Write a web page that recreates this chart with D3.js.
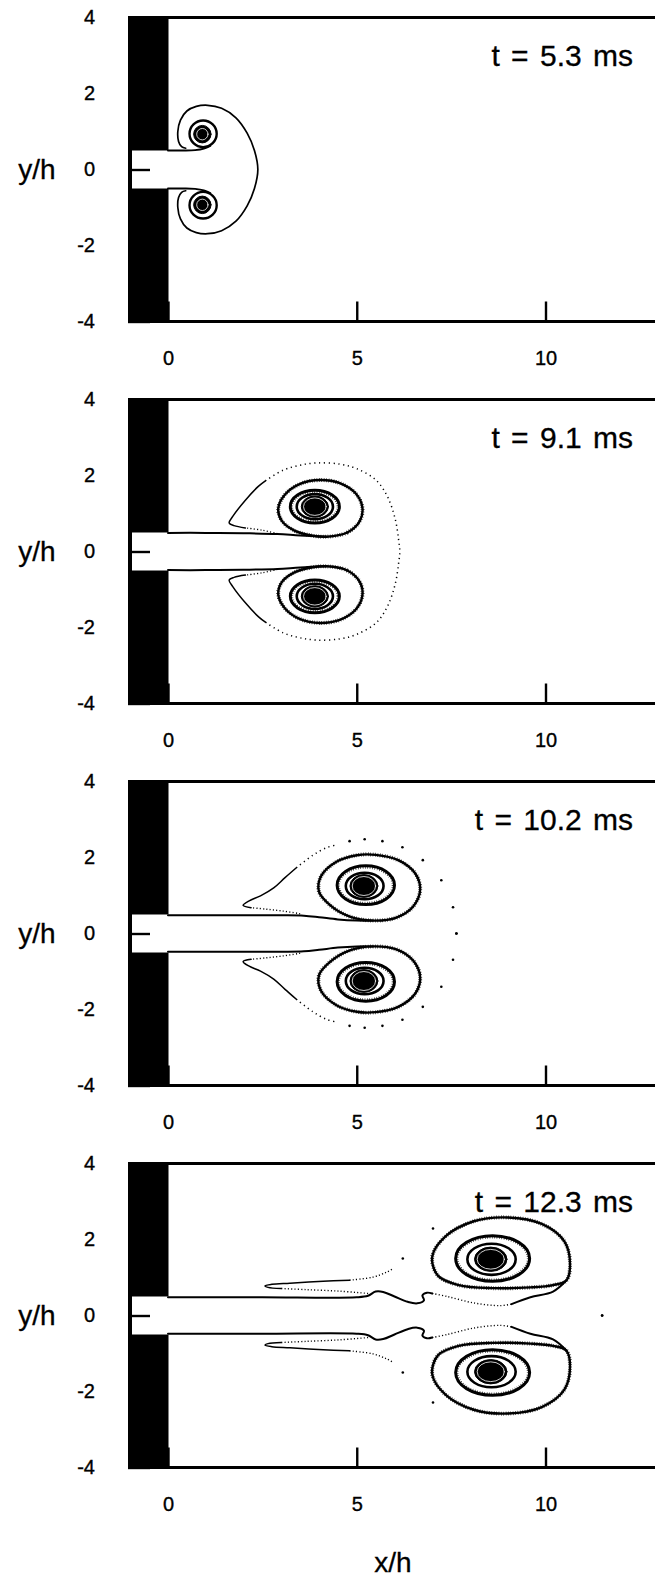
<!DOCTYPE html>
<html>
<head>
<meta charset="utf-8">
<script src="https://cdn.jsdelivr.net/npm/d3@7"></script>
<style>
  html, body { margin: 0; padding: 0; background: #fff; }
  svg { display: block; font-family: "Liberation Sans", Arial, Helvetica, sans-serif; }
</style>
</head>
<body>
<svg id="fig" width="655" height="1580"></svg>
<script>
// ---- data ---------------------------------------------------------------
// Snapshot times of the four panels
const panelLabels = ["t = 5.3 ms", "t = 9.1 ms", "t = 10.2 ms", "t = 12.3 ms"];
const xTickValues = [0, 5, 10];
const yTickValues = [-4, -2, 0, 2, 4];

// Contours are listed for the upper half (y/h > 0) in units of x/h, y/h;
// the flow is symmetric, so the lower half is drawn as the mirror image.
// Ellipses: [cx, cy, rx, ry].

// t = 5.3 ms
const p1Edge  = [[0,0.5],[0.4,0.5],[0.72,0.51],[0.95,0.55],[1.12,0.62]];
const p1Outer = [[0.47,0.56],[0.36,0.60],[0.28,0.74],[0.26,1.0],[0.33,1.30],[0.50,1.54],[0.75,1.66],
                 [1.05,1.69],[1.42,1.61],[1.80,1.36],[2.10,0.95],[2.29,0.50],[2.38,0]];
const p1Ring  = [[0.93,0.94,0.36,0.35]];
const p1Core  = [[0.91,0.93,0.23,0.23]];
const p1Gap   = [[0.91,0.93,0.15,0.15]];

// t = 9.1 ms
const p2Edge     = [[0,0.49],[1.0,0.49],[2.0,0.48],[2.9,0.46],[3.5,0.42],[4.2,0.39]];
const p2Loop     = [[4.2,0.39],[4.75,0.5],[5.08,0.8],[5.15,1.15],[4.98,1.52],[4.55,1.8],[4.02,1.88],
                    [3.5,1.78],[3.1,1.5],[2.92,1.13],[3.02,0.8],[3.35,0.55],[3.8,0.42]];
const p2Tear     = [[2.05,0.62],[1.75,0.68],[1.62,0.75],[1.72,0.93],[2.05,1.35],[2.40,1.72],[2.58,1.86]];
const p2TearDots = [[2.9,0.47],[2.5,0.56],[2.05,0.62]];
const p2Halo     = [[2.58,1.86],[3.05,2.14],[3.49,2.27],[3.93,2.33],[4.55,2.30],[5.0,2.18],[5.52,1.87],
                    [5.82,1.43],[6.02,0.85],[6.11,0.3],[6.14,0]];
const p2Ring     = [[3.89,1.18,0.65,0.43]];
const p2Inner    = [[3.89,1.18,0.48,0.33]];
const p2Core     = [[3.89,1.18,0.36,0.28]];
const p2Gap      = [[3.89,1.18,0.30,0.23]];

// t = 10.2 ms
const p3Edge      = [[0,0.48],[1.5,0.48],[3.0,0.48],[3.6,0.47],[4.0,0.43],[4.5,0.37],[5.0,0.34],[5.43,0.34]];
const p3Loop      = [[5.43,0.34],[6.05,0.42],[6.5,0.72],[6.68,1.15],[6.55,1.58],[6.1,1.93],[5.5,2.07],
                     [5.0,2.06],[4.45,1.88],[4.05,1.5],[4.0,1.1],[4.3,0.74],[4.8,0.45]];
const p3Tear      = [[2.2,0.68],[1.99,0.74],[2.15,0.86],[2.45,0.99],[2.8,1.2],[3.1,1.47],[3.4,1.73]];
const p3TearDots  = [[3.5,0.52],[3.05,0.59],[2.6,0.64],[2.2,0.68]];
const p3HaloDense = [[3.4,1.73],[3.84,2.06],[4.2,2.26],[4.46,2.33]];
const p3HaloDots  = [[4.81,2.43],[5.21,2.48],[5.68,2.43],[6.21,2.27],[6.75,1.93],[7.24,1.40],[7.55,0.69],[7.64,0]];
const p3Ring      = [[5.24,1.27,0.76,0.51]];
const p3Inner     = [[5.21,1.25,0.50,0.35]];
const p3Core      = [[5.19,1.25,0.37,0.30]];
const p3Gap       = [[5.19,1.25,0.31,0.25]];

// t = 12.3 ms
const p4Edge     = [[0,0.48],[2.5,0.48],[5.0,0.48],[5.3,0.52],[5.5,0.63],[5.7,0.62],[6.0,0.5],[6.35,0.36],
                    [6.6,0.32],[6.78,0.4],[6.74,0.53],[6.86,0.6],[7.0,0.58]];
const p4EdgeDots = [[7.0,0.58],[7.4,0.5],[8.1,0.33],[8.8,0.26],[9.1,0.3]];
const p4EdgeEnd  = [[9.1,0.3],[9.6,0.48],[10.2,0.63],[10.55,0.92]];
const p4Loop     = [[10.55,0.92],[10.65,1.35],[10.5,1.95],[9.9,2.41],[9.0,2.58],[8.1,2.48],[7.35,2.08],
                    [7.0,1.55],[7.15,1.05],[7.7,0.8],[8.6,0.72],[9.6,0.74],[10.2,0.8]];
const p4Tail     = [[3.0,0.71],[2.65,0.74],[2.57,0.78],[2.75,0.82],[3.23,0.85],[4.11,0.9],[4.81,0.93]];
const p4TailDots = [[5.3,0.58],[4.55,0.64],[3.67,0.68],[3.0,0.71]];
const p4TailEnd  = [[4.81,0.93],[5.43,1.01],[5.79,1.14],[5.96,1.23]];
const p4Dots     = [[6.22,1.50],[7.02,2.29],[11.5,0]];
const p4Ring     = [[8.6,1.5,0.98,0.6]];
const p4Inner    = [[8.57,1.48,0.64,0.41]];
const p4Core     = [[8.55,1.48,0.43,0.32]];
const p4Gap      = [[8.55,1.48,0.36,0.26]];

// ---- layers per panel ---------------------------------------------------
const panels = [
  { label: panelLabels[0], layers: [
    { kind: "edge",  shape: "open",    pts: p1Edge },
    { kind: "outer", shape: "through", pts: p1Outer },
    { kind: "ring1", shape: "ellipse", pts: p1Ring },
    { kind: "core",  shape: "disc",    pts: p1Core },
    { kind: "gap",   shape: "ellipse", pts: p1Gap } ]},
  { label: panelLabels[1], layers: [
    { kind: "edge",  shape: "open",    pts: p2Edge },
    { kind: "loop",  shape: "closed",  pts: p2Loop },
    { kind: "thin",  shape: "open",    pts: p2Tear },
    { kind: "dense", shape: "open",    pts: p2TearDots },
    { kind: "dotted",shape: "through", pts: p2Halo },
    { kind: "ring",  shape: "ellipse", pts: p2Ring },
    { kind: "inner", shape: "ellipse", pts: p2Inner },
    { kind: "core",  shape: "disc",    pts: p2Core },
    { kind: "gap",   shape: "ellipse", pts: p2Gap } ]},
  { label: panelLabels[2], layers: [
    { kind: "edge",  shape: "open",    pts: p3Edge },
    { kind: "loop",  shape: "closed",  pts: p3Loop },
    { kind: "thin",  shape: "open",    pts: p3Tear },
    { kind: "dense", shape: "open",    pts: p3TearDots },
    { kind: "dotted",shape: "open",    pts: p3HaloDense },
    { kind: "dot",   shape: "dots",    pts: p3HaloDots },
    { kind: "ring",  shape: "ellipse", pts: p3Ring },
    { kind: "inner", shape: "ellipse", pts: p3Inner },
    { kind: "core",  shape: "disc",    pts: p3Core },
    { kind: "gap",   shape: "ellipse", pts: p3Gap } ]},
  { label: panelLabels[3], layers: [
    { kind: "edge",  shape: "open",    pts: p4Edge },
    { kind: "dense", shape: "open",    pts: p4EdgeDots },
    { kind: "edge",  shape: "open",    pts: p4EdgeEnd },
    { kind: "loop",  shape: "closed",  pts: p4Loop },
    { kind: "thin",  shape: "open",    pts: p4Tail },
    { kind: "dense", shape: "open",    pts: p4TailDots },
    { kind: "dense", shape: "open",    pts: p4TailEnd },
    { kind: "dot",   shape: "dots",    pts: p4Dots },
    { kind: "ring",  shape: "ellipse", pts: p4Ring },
    { kind: "inner", shape: "ellipse", pts: p4Inner },
    { kind: "core",  shape: "disc",    pts: p4Core },
    { kind: "gap",   shape: "ellipse", pts: p4Gap } ]}
];

// ---- styles -------------------------------------------------------------
const styles = {
  edge:   { w: 2.0 },
  outer:  { w: 1.7 },
  thin:   { w: 1.5 },
  loop:   { w: 2.4, hatch: true },
  dense:  { w: 1.4, dash: "1.1 2.2" },
  dotted: { w: 1.5, dash: "1.2 3.6" },
  ring1:  { w: 2.4 },
  ring:   { w: 3.0, hatch: true },
  inner:  { w: 2.6 },
  core:   { w: 1.0 },
  gap:    { w: 0.8, color: "#fff" },
  dot:    { r: 1.3 }
};

// ---- layout -------------------------------------------------------------
const wallLeft = 128;        // outer edge of the black end wall
const panelTop0 = 17.5;      // y/h = 4 of the first panel
const panelStep = 382;
const panelH = 304;
const frameRight = 662;

const x = d3.scaleLinear().domain([0, 10]).range([168, 545.5]);

const svg = d3.select("#fig");
const FONT = '"Liberation Sans", Arial, Helvetica, sans-serif';

const mirror = pts => pts.map(([a, b]) => [a, -b]);

panels.forEach((p, i) => {
  const top = panelTop0 + i * panelStep;
  const y = d3.scaleLinear().domain([-4, 4]).range([top + panelH, top]);
  const g = svg.append("g").attr("class", "panel");

  const lineOpen = d3.line().x(d => x(d[0])).y(d => y(d[1])).curve(d3.curveCatmullRom.alpha(0.5));
  const lineClosed = d3.line().x(d => x(d[0])).y(d => y(d[1])).curve(d3.curveCatmullRomClosed.alpha(0.5));

  // end wall and the slot through which the jet enters
  g.append("rect")
    .attr("x", wallLeft).attr("y", top - 1.5)
    .attr("width", x(0) - wallLeft + 0.5).attr("height", panelH + 3)
    .attr("fill", "#000");
  g.append("rect")
    .attr("x", wallLeft + 4).attr("y", y(0.5))
    .attr("width", x(0) - wallLeft - 3).attr("height", y(-0.5) - y(0.5))
    .attr("fill", "#fff");

  // contours
  const cg = g.append("g").attr("fill", "none").attr("stroke", "#000")
    .attr("stroke-linecap", "round").attr("stroke-linejoin", "round");

  p.layers.forEach(layer => {
    const st = styles[layer.kind] || {};
    const col = st.color || "#000";
    if (layer.shape === "dots") {
      const pts = layer.pts.concat(mirror(layer.pts));
      cg.selectAll(null).data(pts).enter().append("circle")
        .attr("cx", d => x(d[0])).attr("cy", d => y(d[1]))
        .attr("r", st.r).attr("fill", col).attr("stroke", "none");
      return;
    }
    if (layer.shape === "ellipse" || layer.shape === "disc") {
      const els = layer.pts.concat(layer.pts.map(([a, b, c, d]) => [a, -b, c, d]));
      const e = cg.selectAll(null).data(els).enter().append("ellipse")
        .attr("cx", d => x(d[0])).attr("cy", d => y(d[1]))
        .attr("rx", d => x(d[0] + d[2]) - x(d[0]))
        .attr("ry", d => y(d[1] - d[3]) - y(d[1]));
      if (layer.shape === "disc") {
        e.attr("fill", "#000").attr("stroke", "#000").attr("stroke-width", st.w);
      } else {
        e.attr("stroke", col).attr("stroke-width", st.w);
        if (st.hatch) {
          cg.selectAll(null).data(els).enter().append("ellipse")
            .attr("cx", d => x(d[0])).attr("cy", d => y(d[1]))
            .attr("rx", d => x(d[0] + d[2]) - x(d[0]) - 1.6)
            .attr("ry", d => y(d[1] - d[3]) - y(d[1]) - 1.6)
            .attr("stroke-width", 2.4).attr("stroke-dasharray", "0.6 1.8")
            .attr("stroke-linecap", "butt");
        }
      }
      return;
    }
    let paths;
    let gen = lineOpen;
    if (layer.shape === "through") {
      paths = [layer.pts.concat(mirror(layer.pts.slice(0, -1)).reverse())];
    } else {
      paths = [layer.pts, mirror(layer.pts)];
      if (layer.shape === "closed") gen = lineClosed;
    }
    paths.forEach(pts => {
      const path = cg.append("path").attr("d", gen(pts))
        .attr("stroke", col).attr("stroke-width", st.w);
      if (st.dash) path.attr("stroke-dasharray", st.dash).attr("stroke-linecap", "butt");
      if (st.hatch) {
        cg.append("path").attr("d", gen(pts))
          .attr("stroke-width", 4.0).attr("stroke-dasharray", "0.6 1.8")
          .attr("stroke-linecap", "butt");
      }
    });
  });

  // axes with inward ticks
  const ax = g.append("g").attr("transform", `translate(0,${y(-4)})`)
    .call(d3.axisBottom(x).tickValues(xTickValues).tickSizeInner(-20).tickSizeOuter(0)
      .tickPadding(29).tickFormat(d => String(d)));
  const ay = g.append("g").attr("transform", `translate(${wallLeft},0)`)
    .call(d3.axisLeft(y).tickValues(yTickValues).tickSizeInner(-22).tickSizeOuter(0)
      .tickPadding(33).tickFormat(d => String(d)));
  [ax, ay].forEach(a => {
    a.select(".domain").remove();
    a.attr("font-family", FONT).attr("font-size", null);
    a.selectAll("line").attr("stroke", "#000").attr("stroke-width", 2.4);
    a.selectAll("text").attr("fill", "#000").attr("font-size", 20)
      .attr("stroke", "#000").attr("stroke-width", 0.35);
  });

  // frame top and bottom
  g.append("line").attr("x1", wallLeft).attr("x2", frameRight)
    .attr("y1", y(4)).attr("y2", y(4)).attr("stroke", "#000").attr("stroke-width", 3);
  g.append("line").attr("x1", wallLeft).attr("x2", frameRight)
    .attr("y1", y(-4)).attr("y2", y(-4)).attr("stroke", "#000").attr("stroke-width", 3);

  // axis title and time stamp
  g.append("text").attr("x", 37).attr("y", y(0) + 9)
    .attr("text-anchor", "middle").attr("font-size", 28).attr("font-family", FONT)
    .attr("stroke", "#000").attr("stroke-width", 0.3)
    .text("y/h");
  g.append("text").attr("x", 633).attr("y", top + 48)
    .attr("text-anchor", "end").attr("font-size", 30).attr("font-family", FONT)
    .attr("word-spacing", 3).attr("stroke", "#000").attr("stroke-width", 0.3)
    .text(p.label);
});

svg.append("text").attr("x", 393).attr("y", 1572)
  .attr("text-anchor", "middle").attr("font-size", 28).attr("font-family", FONT)
  .attr("stroke", "#000").attr("stroke-width", 0.3)
  .text("x/h");
</script>
</body>
</html>
